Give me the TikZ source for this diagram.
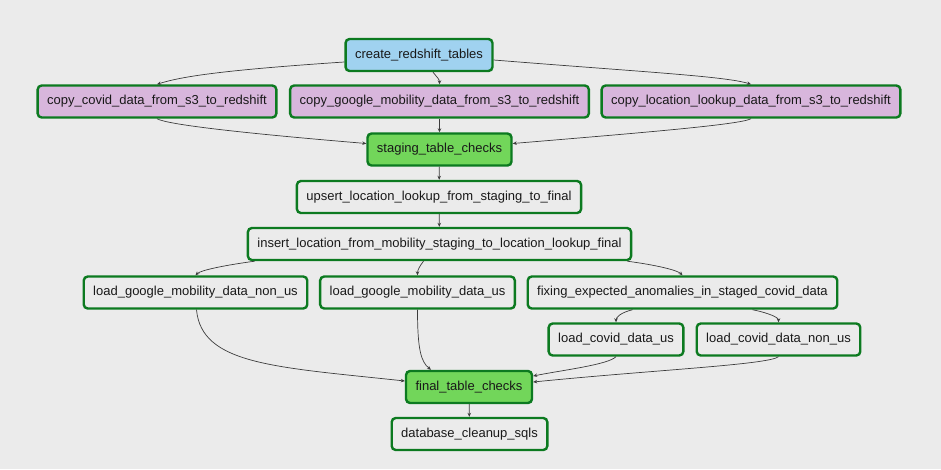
\documentclass[tikz,border=0pt]{standalone}
\usepackage{fontspec}
\setmainfont{Liberation Sans}
\usetikzlibrary{arrows.meta,positioning,calc}

\definecolor{canvas}{RGB}{235,235,235}
\definecolor{taskgreen}{RGB}{12,122,32}
\definecolor{createblue}{RGB}{160,210,240}
\definecolor{copypurple}{RGB}{216,182,220}
\definecolor{checkgreen}{RGB}{114,214,90}
\definecolor{edgegray}{RGB}{60,60,60}

\begin{document}
\begin{tikzpicture}[
    x=1pt, y=1pt,
    task/.style={rectangle, draw=taskgreen, line width=2.4pt, rounded corners=4pt, fill=canvas, inner xsep=9.5pt, minimum height=32pt, font=\fontsize{13}{15}\selectfont, text=black!90},
    create/.style={task, fill=createblue},
    copy/.style={task, fill=copypurple},
    check/.style={task, fill=checkgreen},
    arrow/.style={-{Stealth[length=4pt,width=3.5pt]}, edgegray, line width=0.7pt}
]

% Canvas
\fill[canvas] (0,0) rectangle (941,-469);
\useasboundingbox (0,0) rectangle (941,-469);

% Create tables
\node[create] (create) at (419,-55) {create\_redshift\_tables};

% Copy from S3
\node[copy] (copycovid) at (157,-101.5) {copy\_covid\_data\_from\_s3\_to\_redshift};
\node[copy] (copygoogle) at (439.5,-101.5) {copy\_google\_mobility\_data\_from\_s3\_to\_redshift};
\node[copy] (copylocation) at (751,-101.5) {copy\_location\_lookup\_data\_from\_s3\_to\_redshift};

% Staging checks
\node[check] (staging) at (439.5,-149.5) {staging\_table\_checks};

% Location lookup
\node[task] (upsert) at (439,-197) {upsert\_location\_lookup\_from\_staging\_to\_final};
\node[task] (insert) at (439.5,-244) {insert\_location\_from\_mobility\_staging\_to\_location\_lookup\_final};

% Load mobility and covid data
\node[task] (gmnonus) at (195.5,-292.5) {load\_google\_mobility\_data\_non\_us};
\node[task] (gmus) at (417.5,-292.5) {load\_google\_mobility\_data\_us};
\node[task] (fixing) at (682.5,-292.5) {fixing\_expected\_anomalies\_in\_staged\_covid\_data};
\node[task] (covidus) at (616,-339.5) {load\_covid\_data\_us};
\node[task] (covidnonus) at (778.5,-339.5) {load\_covid\_data\_non\_us};

% Final checks and cleanup
\node[check] (final) at (469,-387) {final\_table\_checks};
\node[task] (cleanup) at (469.5,-434) {database\_cleanup\_sqls};

% Arrows from create
\draw[arrow] ([yshift=-7pt]create.west) .. controls +(-120,-8) and +(25,8) .. (copycovid.north);
\draw[arrow] ([xshift=14pt]create.south) .. controls +(4,-5) and +(0,5) .. (copygoogle.north);
\draw[arrow] ([yshift=-5pt]create.east) .. controls +(150,-12) and +(-25,8) .. (copylocation.north);

% Arrows into staging checks
\draw[arrow] (copycovid.south) .. controls +(10,-6) and +(-120,10) .. ([yshift=6pt]staging.west);
\draw[arrow] (copygoogle.south) -- (staging.north);
\draw[arrow] (copylocation.south) .. controls +(-10,-6) and +(120,10) .. ([yshift=6pt]staging.east);

% Lookup chain
\draw[arrow] (staging) -- (upsert);
\draw[arrow] (upsert) -- (insert);

% Arrows from insert
\draw[arrow] ([xshift=8pt]insert.south west) .. controls +(-30,-4) and +(5,5) .. (gmnonus.north);
\draw[arrow] ([xshift=-16pt]insert.south) .. controls +(-4,-5) and +(0,5) .. (gmus.north);
\draw[arrow] ([xshift=-5pt]insert.south east) .. controls +(30,-4) and +(-5,5) .. (fixing.north);

% Arrows from fixing
\draw[arrow] ([xshift=-50pt]fixing.south) .. controls +(-12,-3) and +(0,5) .. (covidus.north);
\draw[arrow] ([xshift=70pt]fixing.south) .. controls +(15,-3) and +(0,5) .. (covidnonus.north);

% Arrows into final checks
\draw[arrow] ([xshift=1pt]gmnonus.south) .. controls +(5,-55) and +(-130,14) .. ([yshift=6pt]final.west);
\draw[arrow] (gmus.south) .. controls +(0,-40) and +(-10,8) .. ([xshift=-38pt]final.north);
\draw[arrow] (covidus.south) .. controls +(-8,-8) and +(30,6) .. ([yshift=11pt]final.east);
\draw[arrow] (covidnonus.south) .. controls +(-10,-8) and +(120,12) .. ([yshift=5pt]final.east);
\draw[arrow] (final) -- (cleanup);

\end{tikzpicture}
\end{document}
